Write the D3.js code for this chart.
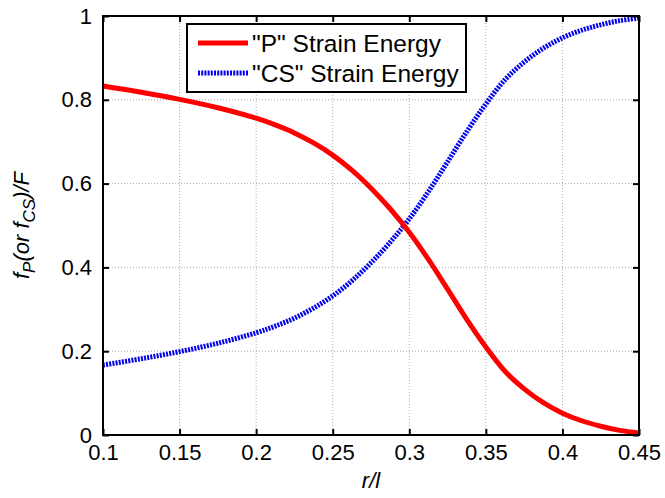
<!DOCTYPE html>
<html>
<head>
<meta charset="utf-8">
<script src="https://cdn.jsdelivr.net/npm/d3@7"></script>
<style>
  body { margin: 0; background: #fff; }
  svg { display: block; font-family: "Liberation Sans", Arial, sans-serif; }
</style>
</head>
<body>
<div id="chart"></div>
<script>
// values (denser where the curves bend)
var ratio = [0.1, 0.125, 0.15, 0.175, 0.2, 0.2125, 0.225, 0.2375, 0.25, 0.2625, 0.275, 0.2875, 0.3,
             0.3125, 0.325, 0.3375, 0.35, 0.3625, 0.375, 0.3875, 0.4, 0.4125, 0.425, 0.4375, 0.45];
var pEnergy = [0.833, 0.818, 0.801, 0.781, 0.756, 0.740, 0.721, 0.697, 0.668, 0.632, 0.589, 0.540, 0.484,
               0.419, 0.348, 0.276, 0.210, 0.152, 0.110, 0.077, 0.052, 0.034, 0.021, 0.011, 0.005];
var csEnergy = [0.167, 0.182, 0.199, 0.219, 0.244, 0.260, 0.279, 0.303, 0.332, 0.368, 0.411, 0.460, 0.516,
                0.581, 0.652, 0.724, 0.790, 0.848, 0.890, 0.923, 0.948, 0.966, 0.979, 0.989, 0.995];
var xTicks = [0.1, 0.15, 0.2, 0.25, 0.3, 0.35, 0.4, 0.45];
var yTicks = [0, 0.2, 0.4, 0.6, 0.8, 1];
var seriesNames = ['"P" Strain Energy', '"CS" Strain Energy'];

var width = 665, height = 498;
var margin = { top: 16, right: 26, bottom: 63, left: 103 };
var plotW = width - margin.left - margin.right;
var plotH = height - margin.top - margin.bottom;

var svg = d3.select("#chart").append("svg")
    .attr("width", width)
    .attr("height", height);

var x = d3.scaleLinear().domain([0.1, 0.45]).range([margin.left, margin.left + plotW]);
var y = d3.scaleLinear().domain([0, 1]).range([margin.top + plotH, margin.top]);

// grid
var grid = svg.append("g").attr("class", "grid");
grid.selectAll("line.vx")
    .data(xTicks.slice(1, -1))
    .enter().append("line")
    .attr("x1", function (d) { return x(d); })
    .attr("x2", function (d) { return x(d); })
    .attr("y1", y(0)).attr("y2", y(1))
    .attr("stroke", "#aaa")
    .attr("stroke-width", 1)
    .attr("stroke-dasharray", "1,2");
grid.selectAll("line.hy")
    .data(yTicks.slice(1, -1))
    .enter().append("line")
    .attr("x1", x(0.1)).attr("x2", x(0.45))
    .attr("y1", function (d) { return y(d); })
    .attr("y2", function (d) { return y(d); })
    .attr("stroke", "#aaa")
    .attr("stroke-width", 1)
    .attr("stroke-dasharray", "1,2");

// curves
var line = function (vals) {
    return d3.line()
        .x(function (d, i) { return x(ratio[i]); })
        .y(function (d) { return y(d); })
        .curve(d3.curveCatmullRom.alpha(0.5))(vals);
};

svg.append("path")
    .attr("d", line(csEnergy))
    .attr("fill", "none")
    .attr("stroke", "#0000ee")
    .attr("stroke-width", 5)
    .attr("stroke-dasharray", "2,1.2");

svg.append("path")
    .attr("d", line(pEnergy))
    .attr("fill", "none")
    .attr("stroke", "#ff0000")
    .attr("stroke-width", 5);

// axes with inward ticks on all four sides
var tickLen = 6;
svg.append("g")
    .attr("transform", "translate(0," + y(0) + ")")
    .call(d3.axisBottom(x).tickValues(xTicks).tickSizeInner(-tickLen).tickSizeOuter(0).tickFormat(d3.format("")))
    .call(function (g) {
        g.select(".domain").remove();
        g.selectAll("text").attr("font-size", 22).attr("dy", "1em").attr("fill", "#000");
        g.selectAll("line").attr("stroke-width", 2);
    });
svg.append("g")
    .attr("transform", "translate(0," + y(1) + ")")
    .call(d3.axisTop(x).tickValues(xTicks).tickSizeInner(-tickLen).tickSizeOuter(0).tickFormat(""))
    .call(function (g) {
        g.select(".domain").remove();
        g.selectAll("line").attr("stroke-width", 2);
    });
svg.append("g")
    .attr("transform", "translate(" + x(0.1) + ",0)")
    .call(d3.axisLeft(y).tickValues(yTicks).tickSizeInner(-tickLen).tickSizeOuter(0).tickPadding(11).tickFormat(d3.format("")))
    .call(function (g) {
        g.select(".domain").remove();
        g.selectAll("text").attr("font-size", 22).attr("fill", "#000");
        g.selectAll("line").attr("stroke-width", 2);
    });
svg.append("g")
    .attr("transform", "translate(" + x(0.45) + ",0)")
    .call(d3.axisRight(y).tickValues(yTicks).tickSizeInner(-tickLen).tickSizeOuter(0).tickFormat(""))
    .call(function (g) {
        g.select(".domain").remove();
        g.selectAll("line").attr("stroke-width", 2);
    });

// frame
svg.append("rect")
    .attr("x", x(0.1)).attr("y", y(1))
    .attr("width", plotW).attr("height", plotH)
    .attr("fill", "none")
    .attr("stroke", "#000")
    .attr("stroke-width", 2);

// axis titles
svg.append("text")
    .attr("x", margin.left + plotW / 2)
    .attr("y", 488)
    .attr("text-anchor", "middle")
    .attr("font-size", 22)
    .attr("font-style", "italic")
    .text("r/l");

var yTitle = svg.append("text")
    .attr("transform", "translate(29," + (margin.top + plotH / 2) + ") rotate(-90)")
    .attr("text-anchor", "middle")
    .attr("font-size", 22)
    .attr("font-style", "italic");
yTitle.append("tspan").text("f");
yTitle.append("tspan").attr("font-size", 17).attr("dy", 6).text("P");
yTitle.append("tspan").attr("dy", -6).text("(or f");
yTitle.append("tspan").attr("font-size", 17).attr("dy", 6).text("CS");
yTitle.append("tspan").attr("dy", -6).text(")/F");

// legend
var legend = svg.append("g").attr("transform", "translate(187,24)");
legend.append("rect")
    .attr("width", 279).attr("height", 68)
    .attr("fill", "#fff")
    .attr("stroke", "#000")
    .attr("stroke-width", 2);
var items = legend.selectAll("g.item")
    .data(seriesNames)
    .enter().append("g")
    .attr("transform", function (d, i) { return "translate(0," + (19 + i * 30) + ")"; });
items.append("line")
    .attr("x1", 11).attr("x2", 61)
    .attr("stroke", function (d, i) { return i === 0 ? "#ff0000" : "#0000ee"; })
    .attr("stroke-width", 5)
    .attr("stroke-dasharray", function (d, i) { return i === 0 ? null : "2,1.2"; });
items.append("text")
    .attr("x", 65)
    .attr("dy", "0.35em")
    .attr("font-size", 24.5)
    .text(function (d) { return d; });
</script>
</body>
</html>
